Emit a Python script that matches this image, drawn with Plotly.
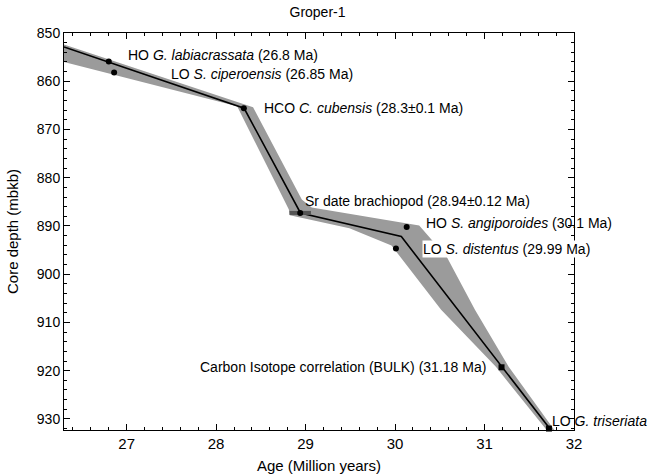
import plotly.graph_objects as go

# Age-depth tie points
point_age = [26.80, 26.86, 28.31, 28.94, 30.13, 30.01, 31.19, 31.72]
point_depth = [855.9, 858.2, 865.6, 887.3, 890.2, 894.7, 919.3, 932.0]
point_labels = [
    "HO <i>G. labiacrassata</i> (26.8 Ma)",
    "LO <i>S. ciperoensis</i> (26.85 Ma)",
    "HCO <i>C. cubensis</i> (28.3±0.1 Ma)",
    "Sr date brachiopod (28.94±0.12 Ma)",
    "HO <i>S. angiporoides</i> (30.1 Ma)",
    "LO <i>S. distentus</i> (29.99 Ma)",
    "Carbon Isotope correlation (BULK) (31.18 Ma)",
    "LO <i>G. triseriata</i>",
]
point_err = [0, 0, 0, 0.12, 0, 0, 0, 0]

# Age model line
line_age = [26.30, 28.313, 28.943, 30.07, 31.724]
line_depth = [852.9, 865.6, 887.3, 892.2, 931.9]

# Uncertainty envelope (upper/right edge then lower/left edge)
band_age = [26.30, 28.268, 28.413, 28.958, 29.069, 30.27, 30.58, 30.893, 31.27, 31.78,
            31.694, 31.127, 30.515, 29.96, 29.49, 28.824, 28.813, 28.235, 26.30]
band_depth = [852.4, 864.5, 865.4, 884.5, 886.2, 889.9, 896.5, 907.35, 919.2, 932.3,
              932.3, 919.2, 907.35, 894.05, 890.5, 887.8, 886.6, 865.2, 856.0]

x_range = [26.30, 32.0]
y_range = [932.3, 850]

FONT = "Liberation Sans, Arial, sans-serif"

fig = go.Figure()
fig.add_trace(go.Scatter(x=band_age, y=band_depth, mode="lines", fill="toself",
                         fillcolor="#9b9b9b", line=dict(width=0), hoverinfo="skip",
                         showlegend=False))
fig.add_trace(go.Scatter(x=line_age, y=line_depth, mode="lines",
                         line=dict(color="black", width=1.6), showlegend=False))
# Sr error bar
fig.add_trace(go.Scatter(x=[point_age[3]], y=[point_depth[3]], mode="markers",
                         marker=dict(size=1, color="rgba(0,0,0,0)"),
                         error_x=dict(type="data", array=[point_err[3]], width=0,
                                      thickness=4, color="#555555"),
                         showlegend=False))
symbols = ["circle"] * 6 + ["square", "square"]
fig.add_trace(go.Scatter(x=point_age, y=point_depth, mode="markers",
                         marker=dict(size=6, color="black", symbol=symbols),
                         showlegend=False, cliponaxis=False))

# label offsets in pixels (xshift, yshift, anchor)
offsets = [(18, 6, "left"), (56, -1, "left"), (19, 0, "left"), (4, 12, "left"),
           (18, 4, "left"), (26, 0, "left"), (-15, 0, "right"), (2, 8, "left")]
for a, d, t, (dx, dy, anc) in zip(point_age, point_depth, point_labels, offsets):
    fig.add_annotation(x=a, y=d, text=t, showarrow=False, xanchor=anc, yanchor="middle",
                       xshift=dx, yshift=dy, font=dict(size=14, color="black", family=FONT),
                       bgcolor="white" if "distentus" in t else None, borderpad=0)

tick_common = dict(ticks="inside", ticklen=6, tickcolor="black", showgrid=False,
                   zeroline=False, automargin=False)
fig.update_layout(
    xaxis=dict(range=x_range, tick0=27, dtick=1, showline=True, linecolor="black",
               linewidth=1, mirror=True,
               minor=dict(ticks="inside", ticklen=3, dtick=0.2, tick0=27, tickcolor="black"),
               tickfont=dict(size=15, family=FONT, color="black"),
               title=dict(text="Age (Million years)", font=dict(size=15, family=FONT), standoff=9),
               **tick_common),
    yaxis=dict(range=y_range, tick0=850, dtick=10, showline=True, linecolor="black",
               linewidth=1, mirror=True,
               minor=dict(ticks="inside", ticklen=3, dtick=2, tick0=850, tickcolor="black"),
               tickfont=dict(size=14, family=FONT, color="black"),
               title=dict(text="Core depth (mbkb)", font=dict(size=15, family=FONT), standoff=14),
               **tick_common),
    xaxis2=dict(range=x_range, overlaying="x", side="top", anchor="y", tick0=27, dtick=1,
                showticklabels=False, showline=False,
                minor=dict(ticks="inside", ticklen=3, dtick=0.2, tick0=27, tickcolor="black"),
                **tick_common),
    yaxis2=dict(range=y_range, overlaying="y", side="right", anchor="x", tick0=850, dtick=10,
                showticklabels=False, showline=False,
                minor=dict(ticks="inside", ticklen=3, dtick=2, tick0=850, tickcolor="black"),
                **tick_common),
    width=648, height=476,
    margin=dict(l=64, r=74, t=33, b=46),
    paper_bgcolor="white", plot_bgcolor="white",
    title=dict(text="Groper-1", x=0.49, xanchor="center", y=0.975, yanchor="middle",
               font=dict(size=14, family=FONT, color="black")),
    font=dict(family=FONT, color="black"),
)
# invisible trace so the mirrored tick axes are drawn
fig.add_trace(go.Scatter(x=[x_range[0]], y=[y_range[0]], xaxis="x2", yaxis="y2",
                         mode="markers", marker=dict(opacity=0), hoverinfo="skip",
                         showlegend=False))

fig.write_html("out.html")
